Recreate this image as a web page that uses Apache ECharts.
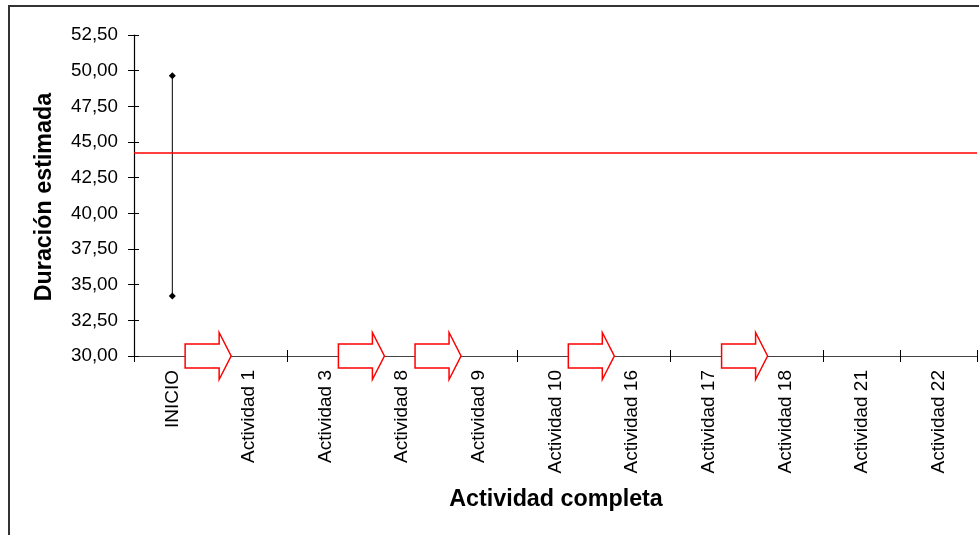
<!DOCTYPE html>
<html>
<head>
<meta charset="utf-8">
<script src="https://cdn.jsdelivr.net/npm/echarts@6/dist/echarts.min.js"></script>
<style>
html,body{margin:0;padding:0;background:#fff;}
#chart{width:979px;height:535px;}
</style>
</head>
<body>
<div id="chart"></div>
<script>
const categories = ['INICIO','Actividad 1','Actividad 3','Actividad 8','Actividad 9','Actividad 10','Actividad 16','Actividad 17','Actividad 18','Actividad 21','Actividad 22'];
const rangeCategories = ['INICIO'];
const rangeLow = [34.2];
const rangeHigh = [49.65];
const meanValue = 44.25;
const arrowFrom = ['INICIO','Actividad 3','Actividad 8','Actividad 10','Actividad 17'];
const arrowLevel = [30, 30, 30, 30, 30];
const yMin = 30, yMax = 52.5, yStep = 2.5;

const FONT = "'Liberation Sans', Arial, sans-serif";
const chart = echarts.init(document.getElementById('chart'));

const rangeData = rangeCategories.map((c, i) => [categories.indexOf(c), rangeLow[i], rangeHigh[i]]);
const arrowData = arrowFrom.map((c, i) => [categories.indexOf(c), arrowLevel[i]]);

function diamond(x, y, r) {
  return [[x, y - r], [x + r, y], [x, y + r], [x - r, y]];
}

const option = {
  animation: false,
  backgroundColor: '#fff',
  grid: { left: 134, right: 2, top: 35, bottom: 179, containLabel: false },
  graphic: [
    { type: 'rect', z: -10, silent: true, shape: { x: 9, y: 6, width: 1000, height: 600 },
      style: { fill: 'none', stroke: '#333', lineWidth: 2 } },
    { type: 'text', x: 45, y: 197, rotation: Math.PI / 2, silent: true,
      style: { text: 'Duración estimada', font: "bold 23.3px 'Liberation Sans', Arial, sans-serif", fill: '#000', align: 'center', verticalAlign: 'middle' } },
    { type: 'text', x: 556, y: 500, silent: true,
      style: { text: 'Actividad completa', font: "bold 23.3px 'Liberation Sans', Arial, sans-serif", fill: '#000', align: 'center', verticalAlign: 'middle' } }
  ],
  xAxis: [
    {
      type: 'category', data: categories, position: 'bottom', boundaryGap: true,
      axisLine: { show: true, lineStyle: { color: '#444', width: 1.2 } },
      axisTick: { show: true, interval: 0, length: 6, lineStyle: { color: '#000' } },
      axisLabel: { interval: 0, rotate: 90, margin: 14, fontSize: 19, fontFamily: FONT, color: '#000' },
      splitLine: { show: false }
    },
    {
      type: 'category', data: categories, position: 'bottom', boundaryGap: true,
      axisLine: { show: false },
      axisTick: { show: true, inside: true, interval: 0, length: 6, lineStyle: { color: '#000' } },
      axisLabel: { show: false },
      splitLine: { show: false }
    }
  ],
  yAxis: [
    {
      type: 'value', min: yMin, max: yMax, interval: yStep, position: 'left',
      axisLine: { show: true, lineStyle: { color: '#000', width: 1.2 } },
      axisTick: { show: true, length: 6, lineStyle: { color: '#000' } },
      axisLabel: { margin: 16, fontSize: 18.8, fontFamily: FONT, color: '#000',
        formatter: v => v.toFixed(2).replace('.', ',') },
      splitLine: { show: false }
    },
    {
      type: 'value', min: yMin, max: yMax, interval: yStep, position: 'left',
      axisLine: { show: false },
      axisTick: { show: true, inside: true, length: 5, lineStyle: { color: '#000' } },
      axisLabel: { show: false },
      splitLine: { show: false }
    }
  ],
  series: [
    {
      type: 'custom', name: 'rango', xAxisIndex: 0, yAxisIndex: 0, data: rangeData, clip: false, z: 3,
      renderItem: function (params, api) {
        const lo = api.coord([api.value(0), api.value(1)]);
        const hi = api.coord([api.value(0), api.value(2)]);
        return {
          type: 'group',
          children: [
            { type: 'line', shape: { x1: lo[0], y1: lo[1], x2: hi[0], y2: hi[1] }, style: { stroke: '#000', lineWidth: 1 } },
            { type: 'polygon', shape: { points: diamond(lo[0], lo[1], 3.5) }, style: { fill: '#000' } },
            { type: 'polygon', shape: { points: diamond(hi[0], hi[1], 3.5) }, style: { fill: '#000' } }
          ]
        };
      },
      markLine: {
        silent: true, symbol: 'none', label: { show: false },
        lineStyle: { color: '#ff0000', width: 1.5, type: 'solid' },
        data: [{ yAxis: meanValue }]
      }
    },
    {
      type: 'custom', name: 'flechas', xAxisIndex: 0, yAxisIndex: 0, data: arrowData, clip: false, z: 5,
      renderItem: function (params, api) {
        const p = api.coord([api.value(0), api.value(1)]);
        const band = api.size([1, 0])[0];
        const x = p[0] + band / 2 - 2, y = p[1];
        return {
          type: 'polygon',
          shape: { points: [[x - 23.5, y - 12], [x + 10.5, y - 12], [x + 10.5, y - 23.5], [x + 22.5, y], [x + 10.5, y + 23.5], [x + 10.5, y + 12], [x - 23.5, y + 12]] },
          style: { fill: '#fff', stroke: '#ff0000', lineWidth: 1.5 }
        };
      }
    }
  ]
};
chart.setOption(option);
</script>
</body>
</html>
